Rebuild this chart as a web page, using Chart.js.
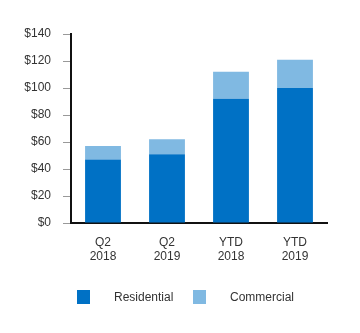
<!DOCTYPE html>
<html>
<head>
<meta charset="utf-8">
<script src="https://cdn.jsdelivr.net/npm/chart.js@4"></script>
<style>
  body { margin: 0; background: #fff; }
  .wrap { position: relative; width: 360px; height: 333px; }
  #legend { position: absolute; top: 290px; left: 0; width: 360px; font: 12px "Liberation Sans", Arial, sans-serif; color: #333; }
  .item { position: absolute; top: 0; display: flex; align-items: center; }
  .box { width: 13px; height: 14px; margin-right: 24px; }
</style>
</head>
<body>
<div class="wrap">
  <canvas id="myChart" width="360" height="333"></canvas>
  <div id="legend"></div>
</div>
<script>
// data
const categories = [['Q2', '2018'], ['Q2', '2019'], ['YTD', '2018'], ['YTD', '2019']];
const residential = [47, 51, 92, 100];
const commercial = [10, 11, 20, 21];
const yTicks = [0, 20, 40, 60, 80, 100, 120, 140];

const colorRes = '#0071c5';
const colorCom = '#80b9e2';

const ctx = document.getElementById('myChart').getContext('2d');
const myChart = new Chart(ctx, {
    type: 'bar',
    data: {
        labels: categories,
        datasets: [{
            label: 'Residential',
            data: residential,
            backgroundColor: colorRes
        }, {
            label: 'Commercial',
            data: commercial,
            backgroundColor: colorCom
        }]
    },
    options: {
        responsive: false,
        animation: false,
        layout: { padding: { left: 0, right: 33, top: 34, bottom: 0 } },
        datasets: { bar: { categoryPercentage: 1, barPercentage: 0.56 } },
        plugins: { legend: { display: false }, tooltip: { enabled: false } },
        scales: {
            x: {
                stacked: true,
                grid: { display: false },
                border: { display: true, color: '#111', width: 2 },
                ticks: {
                    color: '#333',
                    padding: 4,
                    font: { family: 'Liberation Sans', size: 12 },
                    maxRotation: 0
                },
                afterFit: function(scale) { scale.height = 110; }
            },
            y: {
                stacked: true,
                min: 0,
                max: 140,
                afterBuildTicks: function(scale) { scale.ticks = yTicks.map(v => ({ value: v })); },
                grid: { drawOnChartArea: false, drawTicks: true, tickLength: 8, color: '#999', lineWidth: 1 },
                border: { display: true, color: '#111', width: 2 },
                ticks: {
                    color: '#333',
                    padding: 12,
                    font: { family: 'Liberation Sans', size: 12 },
                    callback: function(v) { return '$' + v; }
                },
                afterFit: function(scale) { scale.width = 71; }
            }
        }
    }
});

// legend in html so spacing matches
const legendPos = [77, 193];
const legend = document.getElementById('legend');
myChart.data.datasets.forEach(function(ds, i) {
    const item = document.createElement('div');
    item.className = 'item';
    item.style.left = legendPos[i] + 'px';
    item.innerHTML = '<span class="box" style="background:' + ds.backgroundColor + '"></span><span>' + ds.label + '</span>';
    legend.appendChild(item);
});
</script>
</body>
</html>
